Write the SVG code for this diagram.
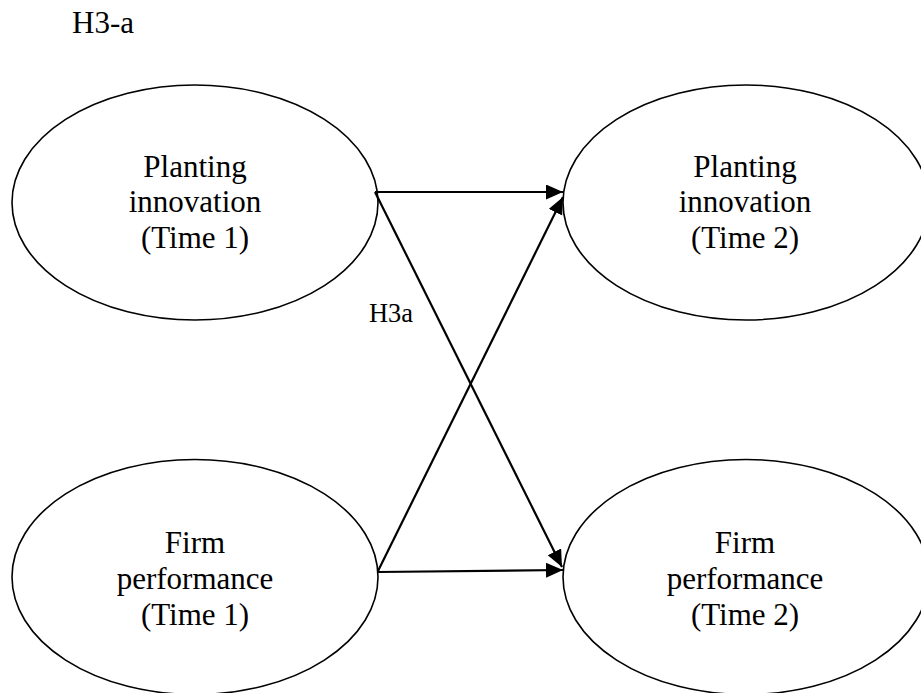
<svg xmlns="http://www.w3.org/2000/svg" width="921" height="693" viewBox="0 0 921 693">
<style>
.node ellipse{fill:#fff;stroke:#000;stroke-width:1.6}
.lbl{font-family:"Liberation Serif","Times New Roman",serif;font-size:31px;fill:#000;text-anchor:middle}
.conn line{stroke:#000;stroke-width:2.2;marker-end:url(#ah)}
</style>
<defs>
<marker id="ah" markerUnits="userSpaceOnUse" markerWidth="18" markerHeight="16" refX="17" refY="7.5" orient="auto">
<path d="M0,0 L17,7.5 L0,15 Z" fill="#000"/>
</marker>
</defs>
<rect width="921" height="693" fill="#fff"/>
<text x="72" y="33" font-family="Liberation Serif,Times New Roman,serif" font-size="31" fill="#000">H3-a</text>
<g id="pi1" class="node">
<ellipse cx="195" cy="202.5" rx="183" ry="117.5"/>
<text class="lbl" x="195" y="177">Planting</text>
<text class="lbl" x="195" y="212">innovation</text>
<text class="lbl" x="195" y="248">(Time 1)</text>
</g>
<g id="pi2" class="node">
<ellipse cx="746" cy="202.5" rx="183" ry="117.5"/>
<text class="lbl" x="745" y="177">Planting</text>
<text class="lbl" x="745" y="212">innovation</text>
<text class="lbl" x="745" y="248">(Time 2)</text>
</g>
<g id="fp1" class="node">
<ellipse cx="195" cy="577" rx="183" ry="117.5"/>
<text class="lbl" x="195" y="553">Firm</text>
<text class="lbl" x="195" y="589">performance</text>
<text class="lbl" x="195" y="625">(Time 1)</text>
</g>
<g id="fp2" class="node">
<ellipse cx="746" cy="577" rx="183" ry="117.5"/>
<text class="lbl" x="745" y="553">Firm</text>
<text class="lbl" x="745" y="589">performance</text>
<text class="lbl" x="745" y="625">(Time 2)</text>
</g>
<g id="connectors" class="conn">
<line x1="375" y1="192" x2="563" y2="192"/>
<line x1="375" y1="192" x2="562" y2="567"/>
<line x1="378" y1="571" x2="563" y2="197"/>
<line x1="378" y1="572" x2="563" y2="570"/>
</g>
<text x="369" y="322" font-family="Liberation Serif,Times New Roman,serif" font-size="27" textLength="44" lengthAdjust="spacingAndGlyphs" fill="#000">H3a</text>
</svg>
